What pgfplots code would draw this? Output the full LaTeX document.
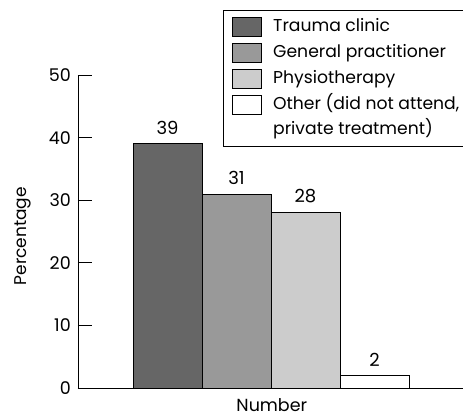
\documentclass[border=0pt]{standalone}
\usepackage{fontspec}
\setmainfont{Poppins}
\usepackage{pgfplots}
\pgfplotsset{compat=1.18}
\definecolor{barA}{HTML}{666666}
\definecolor{barB}{HTML}{999999}
\definecolor{barC}{HTML}{CCCCCC}
\begin{document}
\begin{tikzpicture}
\begin{axis}[
  at={(78pt,30pt)}, anchor=south west,
  width=390pt, height=313pt, scale only axis,
  xmin=-0.297, xmax=5.355,
  ymin=0, ymax=50,
  axis x line=bottom, axis y line=left,
  axis line style={-, line width=0.8pt},
  xtick=\empty,
  ytick={0,10,20,30,40,50},
  tick align=inside, major tick length=14pt,
  tick style={line width=0.8pt, black},
  /pgf/number format/assume math mode=true,
  yticklabel style={font=\fontsize{17.5}{20}\selectfont, inner sep=0pt, xshift=-7pt},
  ylabel={Percentage},
  ylabel style={font=\fontsize{17}{20}\selectfont, at={(axis description cs:-0.142,0.485)}, anchor=center},
  xlabel={Number},
  xlabel style={font=\fontsize{17.5}{20}\selectfont, inner sep=0pt, at={(axis description cs:0.497,0)}, anchor=center, yshift=-17pt},
  ybar, bar width=1, bar shift=0pt,
  clip=false,
  nodes near coords,
  every node near coord/.append style={font=\fontsize{18}{20}\selectfont, inner sep=0pt, yshift=9pt, black},
  legend image code/.code={\draw[#1, line width=0.8pt] (0pt,-9.5pt) rectangle (29pt,9.5pt);},
  legend style={
    at={(axis description cs:0.3718,1.2077)}, anchor=north west,
    draw=black, line width=0.8pt,
    font=\fontsize{17.2}{20}\selectfont,
    cells={anchor=west},
    nodes={inner sep=0pt, text height=14pt, text depth=5pt},
    row sep=6pt,
    inner xsep=9pt, inner ysep=7pt,
    /tikz/every odd column/.append style={column sep=11pt},
  },
]
\addplot[draw=black, line width=0.8pt, fill=barA] coordinates {(1,39)};
\addlegendentry{Trauma clinic}
\addplot[draw=black, line width=0.8pt, fill=barB] coordinates {(2,31)};
\addlegendentry{General practitioner}
\addplot[draw=black, line width=0.8pt, fill=barC] coordinates {(3,28)};
\addlegendentry{Physiotherapy}
\addplot[draw=black, line width=0.8pt, fill=white] coordinates {(4,2)};
\addlegendentry{Other (did not attend,}
\addlegendimage{empty legend}
\addlegendentry{private treatment)}
\end{axis}
\pgfresetboundingbox
\useasboundingbox (0,0) rectangle (463pt,418pt);
\end{tikzpicture}
\end{document}
